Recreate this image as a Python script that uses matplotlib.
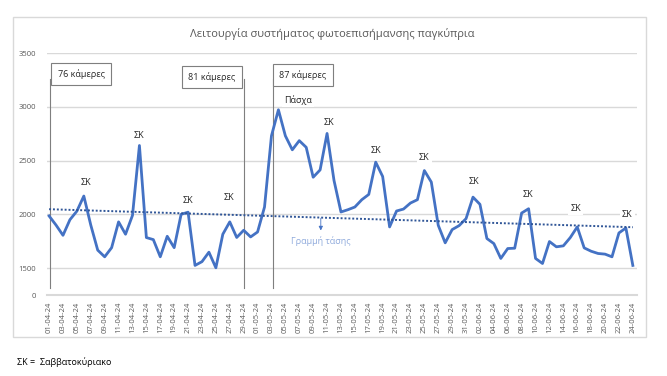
import numpy as np
import pandas as pd
import matplotlib
matplotlib.use('Agg')
import matplotlib.pyplot as plt
from matplotlib.patches import Rectangle

plt.rcParams['font.family'] = ['Open Sans', 'DejaVu Sans']

# daily values 01-04-24 .. 24-06-24
values = [1985, 1900, 1805, 1950, 2030, 2170, 1900, 1667, 1605, 1690,
          1930, 1815, 1990, 2640, 1784, 1765, 1605, 1796, 1690, 2000,
          2020, 1525, 1560, 1648, 1503, 1815, 1930, 1785, 1852, 1790,
          1836, 2068, 2730, 2972, 2730, 2600, 2685, 2623, 2345, 2413,
          2752, 2315, 2022, 2043, 2068, 2136, 2185, 2485, 2352, 1883,
          2031, 2049, 2105, 2136, 2407, 2300, 1898, 1735, 1858, 1895,
          1960, 2160, 2093, 1775, 1728, 1590, 1682, 1685, 2012, 2052,
          1590, 1543, 1747, 1698, 1707, 1784, 1883, 1688, 1657, 1636,
          1630, 1605, 1827, 1873, 1525]
dates = pd.date_range('2024-04-01', '2024-06-24', freq='D')
tick_labels = [d.strftime('%d-%m-%y') for d in dates[::2]]

y_ticks = [1250, 1500, 2000, 2500, 3000, 3500]
y_tick_labels = ['0', '1500', '2000', '2500', '3000', '3500']

# weekend labels (day index, value position)
sk_x = [5.3, 13.0, 20.0, 25.9, 40.3, 47.0, 54.0, 61.2, 68.9, 75.8, 83.2]
sk_y = [2296, 2731, 2130, 2157, 2852, 2593, 2528, 2306, 2185, 2056, 2000]

box_texts = ['76 κάμερες', '81 κάμερες', '87 κάμερες']
box_x = [4.6, 23.45, 36.5]
box_y = [3306, 3278, 3296]
vline_x = [0.1, 28.0, 32.2]

blue = '#4472C4'
grey_txt = '#595959'

fig = plt.figure(figsize=(6.67, 3.76), dpi=100)
fig.patches.append(Rectangle((13 / 667, 1 - 337 / 376), 633 / 667, 320 / 376,
                             transform=fig.transFigure, fill=False,
                             edgecolor='#d9d9d9', lw=1))
ax = fig.add_axes([47 / 667, 1 - 295 / 376, 590 / 667, 242 / 376])

x = np.arange(len(values))
ax.plot(x, values, color=blue, lw=2, zorder=3)

# trend line
k, b = np.polyfit(x, values, 1)
ax.plot(x, k * x + b, color='#2F5597', lw=1.4, ls=(0, (1, 1)), zorder=3)

ax.set_xlim(-0.3, 84.6)
ax.set_ylim(1250, 3500)
ax.set_yticks(y_ticks)
ax.set_yticklabels(y_tick_labels)
ax.set_xticks(x[::2])
ax.set_xticklabels(tick_labels, rotation=90)
ax.tick_params(axis='both', length=0, labelsize=5.5, labelcolor=grey_txt)
ax.tick_params(axis='x', pad=5)
ax.tick_params(axis='y', pad=8)
for s in ax.spines.values():
    s.set_visible(False)
ax.grid(axis='y', color='#d9d9d9', lw=1)
ax.set_axisbelow(True)
ax.axhline(1250, color='#d9d9d9', lw=1.5, clip_on=False)

for xs, ys in zip(sk_x, sk_y):
    ax.text(xs, ys, 'ΣΚ', fontsize=6.5, ha='center', va='center', color='#262626',
            bbox=dict(facecolor='white', edgecolor='none', pad=1.5), zorder=4)
ax.text(35.8, 3065, 'Πάσχα', fontsize=6.5, ha='center', va='center', color='#262626',
        bbox=dict(facecolor='white', edgecolor='none', pad=1.5), zorder=4)

for vx in vline_x:
    ax.plot([vx, vx], [1315, 3260], color='#7f7f7f', lw=0.8, zorder=2)
for t, bx, by in zip(box_texts, box_x, box_y):
    ax.text(bx, by, t, fontsize=6.5, ha='center', va='center', color='#262626',
            bbox=dict(facecolor='white', edgecolor='#7f7f7f', lw=0.8,
                      boxstyle='square,pad=0.7'), zorder=5)

ax.annotate('', xy=(39.1, 1824), xytext=(39.1, 1990),
            arrowprops=dict(arrowstyle='-|>', color=blue, lw=0.6,
                            mutation_scale=6))
ax.text(39.1, 1750, 'Γραμμή τάσης', fontsize=6.5, ha='center', va='center',
        color='#8faadc')

fig.text(332 / 667, 1 - 34 / 376, 'Λειτουργία συστήματος φωτοεπισήμανσης παγκύπρια',
         fontsize=8, ha='center', va='center', color=grey_txt)
fig.text(17 / 667, 1 - 362 / 376, 'ΣΚ =  Σαββατοκύριακο', fontsize=6.5,
         ha='left', va='center', color='black')

fig.savefig('out.png', dpi=100)
